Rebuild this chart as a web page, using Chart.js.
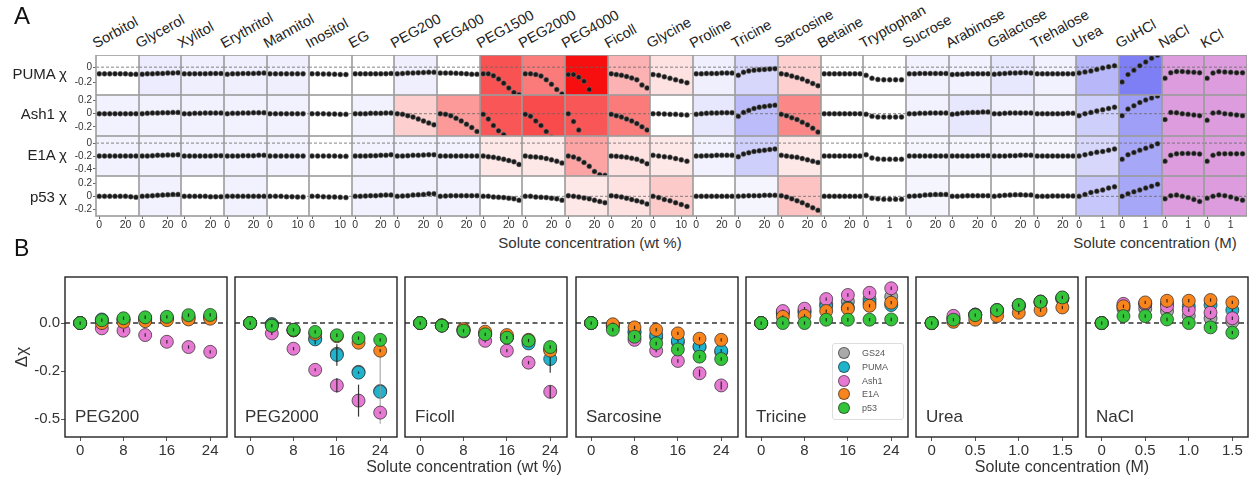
<!DOCTYPE html>
<html>
<head>
<meta charset="utf-8">
<script src="https://cdn.jsdelivr.net/npm/chart.js@4.4.1/dist/chart.umd.min.js"></script>
<style>
  body { margin: 0; background: #fff; font-family: "Liberation Sans", Arial, sans-serif; color: #333; }
  #fig { position: relative; width: 1260px; height: 484px; overflow: hidden; }
  #fig canvas { position: absolute; }
  .t { position: absolute; white-space: nowrap; }
  .legend { position: absolute; left: 832px; top: 343px; width: 72px; height: 77px; background: #fff;
            border: 1px solid #ddd; border-radius: 3px; box-sizing: border-box; }
  .legend div { position: absolute; left: 5px; height: 13px; font-size: 9px; line-height: 13px; color: #555; }
  .legend span { position: absolute; left: 0; top: 0; width: 12px; height: 12px; border-radius: 50%;
                 border: 1px solid rgba(40,40,40,0.6); box-sizing: border-box; }
  .legend b { position: absolute; left: 24px; font-weight: normal; }
</style>
</head>
<body>
<div id="fig"></div>
<script>
// ---------- panel A data ----------
const solutes = ["Sorbitol", "Glycerol", "Xylitol", "Erythritol", "Mannitol", "Inositol", "EG",
  "PEG200", "PEG400", "PEG1500", "PEG2000", "PEG4000", "Ficoll", "Glycine", "Proline", "Tricine",
  "Sarcosine", "Betaine", "Tryptophan", "Sucrose", "Arabinose", "Galactose", "Trehalose",
  "Urea", "GuHCl", "NaCl", "KCl"];
// w = wt % up to ~28, h = wt % up to ~12, m = molar
const soluteUnit = ["w", "w", "w", "w", "h", "h", "w", "w", "w", "w", "w", "w", "w", "h", "w", "w",
  "w", "w", "m", "w", "w", "w", "w", "m", "m", "m", "m"];
const saltSolutes = ["NaCl", "KCl"];
const concWt = [0, 4, 8, 12, 16, 20, 24, 28];
const concWtLow = [0, 2, 4, 6, 8, 10, 12];
const concMolar = [0, 0.25, 0.5, 0.75, 1, 1.25, 1.5];
const proteinsA = ["PUMA", "Ash1", "E1A", "p53"];
const yTicksA = [[0, -0.2], [0.2, 0, -0.2], [0, -0.2, -0.4], [0.2, 0, -0.2]];

const chiPUMA = [
  [-0.09, -0.09, -0.09, -0.09, -0.09, -0.09, -0.095, -0.095],
  [-0.095, -0.09, -0.09, -0.085, -0.085, -0.08, -0.08, -0.075],
  [-0.09, -0.09, -0.088, -0.088, -0.087, -0.086, -0.085, -0.085],
  [-0.095, -0.09, -0.088, -0.086, -0.085, -0.084, -0.082, -0.08],
  [-0.09, -0.09, -0.09, -0.09, -0.09, -0.09, -0.09],
  [-0.09, -0.09, -0.092, -0.093, -0.095, -0.098, -0.1],
  [-0.09, -0.09, -0.09, -0.09, -0.09, -0.09, -0.088, -0.085],
  [-0.09, -0.085, -0.08, -0.078, -0.075, -0.073, -0.07, -0.07],
  [-0.08, -0.08, -0.08, -0.082, -0.085, -0.09, -0.095, -0.095],
  [-0.09, -0.09, -0.115, -0.16, -0.215, -0.28, -0.34, -0.37],
  [-0.09, -0.09, -0.1, -0.12, -0.17, -0.23, -0.3, -0.36],
  [-0.1, -0.1, -0.135, -0.19, -0.3, -0.45, -0.6, -0.75],
  [-0.09, -0.1, -0.11, -0.125, -0.145, -0.17, -0.24, -0.28],
  [-0.1, -0.11, -0.13, -0.15, -0.17, -0.19, -0.21],
  [-0.09, -0.09, -0.085, -0.085, -0.085, -0.08, -0.08, -0.08],
  [-0.11, -0.07, -0.05, -0.04, -0.035, -0.03, -0.025, -0.02],
  [-0.09, -0.1, -0.12, -0.14, -0.16, -0.19, -0.22, -0.25],
  [-0.09, -0.09, -0.09, -0.09, -0.09, -0.09, -0.09, -0.09],
  [-0.11, -0.15, -0.165, -0.17, -0.17, -0.17, -0.17],
  [-0.09, -0.09, -0.085, -0.085, -0.085, -0.085, -0.085, -0.085],
  [-0.1, -0.095, -0.095, -0.09, -0.09, -0.09, -0.09, -0.09],
  [-0.095, -0.09, -0.085, -0.08, -0.08, -0.075, -0.075, -0.08],
  [-0.09, -0.09, -0.09, -0.09, -0.09, -0.09, -0.09, -0.09],
  [-0.08, -0.065, -0.05, -0.03, -0.01, 0.005, 0.02],
  [-0.2, -0.1, -0.04, 0.02, 0.07, 0.12, 0.16],
  [-0.15, -0.075, -0.06, -0.06, -0.065, -0.07, -0.075],
  [-0.15, -0.08, -0.06, -0.065, -0.07, -0.075, -0.075]
];
const chiAsh1 = [
  [0, 0, 0, 0, 0, 0, 0, 0],
  [0, 0.005, 0.01, 0.01, 0.015, 0.015, 0.02, 0.02],
  [0, 0, 0.005, 0.005, 0.01, 0.01, 0.01, 0.01],
  [0, 0.005, 0.005, 0.01, 0.01, 0.015, 0.015, 0.015],
  [0, 0, 0, 0, 0, 0, 0],
  [0, 0, 0, -0.005, -0.005, -0.01, -0.01],
  [0, 0, 0, 0.005, 0.005, 0.005, 0.01, 0.01],
  [0, -0.01, -0.03, -0.05, -0.08, -0.11, -0.14, -0.17],
  [0, -0.01, -0.03, -0.07, -0.11, -0.16, -0.21, -0.27],
  [-0.01, -0.08, -0.18, -0.26, -0.32, -0.4, -0.48, -0.55],
  [-0.01, -0.04, -0.11, -0.18, -0.27, -0.36, -0.45, -0.55],
  [0, -0.12, -0.25, -0.38, -0.5, -0.6, -0.7, -0.8],
  [-0.01, -0.03, -0.05, -0.08, -0.11, -0.15, -0.2, -0.25],
  [0, 0, -0.005, -0.01, -0.01, -0.015, -0.02],
  [-0.01, 0, 0.005, 0.01, 0.01, 0.015, 0.015, 0.015],
  [-0.04, 0.02, 0.05, 0.08, 0.1, 0.11, 0.12, 0.13],
  [-0.01, -0.03, -0.06, -0.09, -0.13, -0.17, -0.22, -0.28],
  [0, 0, 0, 0, 0, 0, 0, 0],
  [-0.01, -0.04, -0.05, -0.05, -0.05, -0.05, -0.05],
  [0, 0, 0.005, 0.005, 0.01, 0.01, 0.01, 0.01],
  [-0.01, 0, 0.01, 0.015, 0.02, 0.02, 0.025, 0.025],
  [0, 0, 0.005, 0.01, 0.01, 0.01, 0.01, 0.01],
  [0, 0, 0, 0, 0, 0, 0.005, 0.005],
  [-0.03, 0, 0.02, 0.04, 0.06, 0.08, 0.1],
  [-0.03, 0.07, 0.12, 0.17, 0.21, 0.24, 0.27],
  [-0.09, 0.02, 0.015, 0, -0.01, -0.02, -0.03],
  [-0.1, 0.01, 0.02, 0, -0.01, -0.02, -0.03]
];
const chiE1A = [
  [-0.2, -0.2, -0.2, -0.2, -0.2, -0.2, -0.2, -0.2],
  [-0.2, -0.2, -0.195, -0.19, -0.19, -0.185, -0.185, -0.18],
  [-0.2, -0.2, -0.2, -0.2, -0.2, -0.2, -0.195, -0.195],
  [-0.2, -0.2, -0.2, -0.195, -0.195, -0.195, -0.19, -0.19],
  [-0.2, -0.2, -0.2, -0.2, -0.2, -0.2, -0.2],
  [-0.2, -0.2, -0.2, -0.2, -0.2, -0.205, -0.205],
  [-0.2, -0.2, -0.2, -0.195, -0.195, -0.19, -0.19, -0.18],
  [-0.2, -0.2, -0.195, -0.19, -0.19, -0.185, -0.18, -0.18],
  [-0.2, -0.2, -0.2, -0.2, -0.2, -0.2, -0.2, -0.2],
  [-0.2, -0.21, -0.22, -0.235, -0.25, -0.27, -0.29, -0.33],
  [-0.2, -0.21, -0.215, -0.225, -0.24, -0.26, -0.28, -0.31],
  [-0.2, -0.215, -0.245, -0.3, -0.36, -0.44, -0.49, -0.5],
  [-0.2, -0.205, -0.21, -0.22, -0.235, -0.25, -0.28, -0.32],
  [-0.19, -0.2, -0.21, -0.22, -0.24, -0.26, -0.28],
  [-0.2, -0.2, -0.195, -0.195, -0.19, -0.19, -0.19, -0.19],
  [-0.21, -0.17, -0.15, -0.13, -0.12, -0.11, -0.1, -0.09],
  [-0.19, -0.2, -0.21, -0.22, -0.24, -0.26, -0.28, -0.3],
  [-0.2, -0.2, -0.2, -0.2, -0.2, -0.2, -0.2, -0.2],
  [-0.18, -0.23, -0.245, -0.25, -0.25, -0.25, -0.25],
  [-0.2, -0.2, -0.2, -0.2, -0.2, -0.2, -0.2, -0.2],
  [-0.2, -0.2, -0.2, -0.2, -0.2, -0.195, -0.195, -0.195],
  [-0.2, -0.2, -0.2, -0.195, -0.195, -0.19, -0.19, -0.19],
  [-0.2, -0.2, -0.2, -0.2, -0.2, -0.2, -0.2, -0.2],
  [-0.2, -0.18, -0.16, -0.14, -0.13, -0.11, -0.09],
  [-0.25, -0.18, -0.145, -0.11, -0.08, -0.05, -0.01],
  [-0.28, -0.19, -0.165, -0.16, -0.16, -0.16, -0.17],
  [-0.28, -0.19, -0.165, -0.165, -0.165, -0.165, -0.165]
];
const chiP53 = [
  [0, 0, 0, 0, 0, 0, -0.005, -0.015],
  [0, 0.005, 0.01, 0.015, 0.02, 0.025, 0.03, 0.03],
  [0, 0, 0, 0, 0, -0.005, -0.005, -0.005],
  [0, 0, 0, 0, 0, 0, 0, 0],
  [0, 0, 0, -0.005, -0.005, -0.01, -0.01],
  [0, 0, -0.005, -0.01, -0.01, -0.015, -0.02],
  [0, 0, 0.005, 0.01, 0.01, 0.015, 0.02, 0.02],
  [0, 0.005, 0.01, 0.02, 0.025, 0.03, 0.04, 0.04],
  [0, 0.005, 0.01, 0.01, 0.01, 0.01, 0.01, 0.01],
  [0, 0, -0.01, -0.015, -0.02, -0.03, -0.04, -0.06],
  [0, 0, -0.01, -0.015, -0.02, -0.03, -0.04, -0.06],
  [0.01, 0, -0.01, -0.025, -0.04, -0.06, -0.08, -0.1],
  [0.01, 0, -0.01, -0.03, -0.05, -0.07, -0.09, -0.12],
  [0, -0.02, -0.05, -0.07, -0.1, -0.13, -0.16],
  [0, 0, 0, 0, 0, 0, 0, 0],
  [0, 0.005, 0.01, 0.01, 0.01, 0.015, 0.015, 0.015],
  [0.01, -0.01, -0.04, -0.07, -0.1, -0.14, -0.18, -0.22],
  [0, 0, 0, 0, 0, 0, 0, 0],
  [0.01, -0.03, -0.04, -0.045, -0.045, -0.045, -0.045],
  [0, 0.005, 0.01, 0.02, 0.025, 0.03, 0.03, 0.03],
  [0, 0, 0.005, 0.01, 0.01, 0.01, 0.01, 0.01],
  [0, 0.01, 0.015, 0.02, 0.025, 0.025, 0.02, 0.02],
  [0, 0, 0, 0.005, 0.005, 0.005, 0.005, 0.005],
  [0, 0.03, 0.06, 0.08, 0.1, 0.13, 0.15],
  [0, 0.04, 0.07, 0.1, 0.13, 0.16, 0.19],
  [-0.04, 0.01, 0.02, 0, -0.02, -0.05, -0.08],
  [-0.03, 0, 0.02, 0.01, -0.01, -0.04, -0.06]
];
// cell shading score: negative = compaction (red), positive = expansion (blue)
const shadePUMA = [0, .12, .1, .1, .1, 0, 0, .1, 0, -.72, -.55, -1, -.32, -.12, .1, .25, -.2, 0, 0, .08, .08, .15, .08, .45, .8, 0, 0];
const shadeAsh1 = [.08, .08, .08, .08, .08, 0, .08, -.2, -.42, -.7, -.75, -.7, -.55, 0, .15, .42, -.5, 0, 0, .08, .15, .08, .08, .3, .6, 0, 0];
const shadeE1A = [.08, .08, .08, .08, .08, 0, .08, .08, .08, -.1, -.1, -.38, -.12, -.1, .08, .3, -.1, 0, 0, .06, .06, .06, .06, .25, .55, 0, 0];
const shadeP53 = [0, .08, 0, .08, 0, 0, .08, .08, .08, 0, 0, -.1, -.12, -.22, 0, .06, -.25, 0, 0, .06, 0, 0, 0, .35, .55, 0, 0];

// ---------- panel B data ----------
const panelB = ["PEG200", "PEG2000", "Ficoll", "Sarcosine", "Tricine", "Urea", "NaCl"];
const panelBMolar = ["Urea", "NaCl"];
const proteinsB = ["GS24", "PUMA", "Ash1", "E1A", "p53"];
const concBWt = [0, 4, 8, 12, 16, 20, 24];
const concBMolar = [0, 0.25, 0.5, 0.75, 1, 1.25, 1.5];
const xTicksBWt = [0, 8, 16, 24];
const xTicksBMolar = [0, 0.5, 1, 1.5];
const yTicksB = [0, -0.2, -0.5];

const dPEG200 = [
  [0, 0.01, 0.015, 0.015, 0.02, 0.02, 0.025],
  [0, 0.015, 0.015, 0.02, 0.02, 0.025, 0.025],
  [0, -0.022, -0.032, -0.05, -0.078, -0.1, -0.12],
  [0, 0, 0.005, 0.008, 0.012, 0.015, 0.018],
  [0, 0.012, 0.02, 0.024, 0.026, 0.033, 0.034]
];
const dPEG2000 = [
  [0, -0.005, -0.03, -0.065, -0.128, -0.205, -0.325],
  [0, -0.005, -0.03, -0.068, -0.133, -0.21, -0.33],
  [0, -0.043, -0.107, -0.195, -0.29, -0.385, -0.46],
  [0, -0.01, -0.03, -0.045, -0.055, -0.082, -0.115],
  [0, -0.011, -0.028, -0.037, -0.051, -0.063, -0.07]
];
const dFicoll = [
  [0, -0.01, -0.028, -0.045, -0.06, -0.075, -0.11],
  [0, -0.01, -0.03, -0.045, -0.06, -0.085, -0.15],
  [0, -0.01, -0.035, -0.074, -0.115, -0.165, -0.33],
  [0, -0.01, -0.025, -0.036, -0.05, -0.07, -0.115],
  [0, -0.011, -0.032, -0.047, -0.061, -0.073, -0.1]
];
const dSarcosine = [
  [0, -0.01, -0.04, -0.06, -0.08, -0.1, -0.12],
  [0, -0.008, -0.035, -0.05, -0.073, -0.098, -0.115],
  [0, -0.015, -0.07, -0.115, -0.158, -0.214, -0.29],
  [0, -0.005, -0.018, -0.028, -0.043, -0.065, -0.07],
  [0, -0.028, -0.057, -0.085, -0.11, -0.14, -0.15]
];
const dTricine = [
  [0, 0.045, 0.05, 0.08, 0.09, 0.1, 0.11],
  [0, 0.04, 0.045, 0.07, 0.065, 0.085, 0.075],
  [0, 0.05, 0.06, 0.1, 0.117, 0.126, 0.145],
  [0, 0.026, 0.03, 0.05, 0.06, 0.072, 0.085],
  [0, 0, 0, 0.014, 0.014, 0.014, 0.015]
];
const dUrea = [
  [0, 0.02, 0.035, 0.05, 0.07, 0.085, 0.1],
  [0, 0.018, 0.035, 0.052, 0.072, 0.088, 0.104],
  [0, 0.03, 0.035, 0.055, 0.075, 0.09, 0.105],
  [0, 0.005, 0.014, 0.029, 0.043, 0.054, 0.065],
  [0, 0.014, 0.033, 0.054, 0.075, 0.089, 0.107]
];
const dNaCl = [
  [0, 0.06, 0.06, 0.05, 0.03, 0.02, 0.005],
  [0, 0.07, 0.08, 0.08, 0.07, 0.075, 0.054],
  [0, 0.08, 0.08, 0.07, 0.054, 0.044, 0.02],
  [0, 0.07, 0.086, 0.093, 0.093, 0.096, 0.086],
  [0, 0.029, 0.029, 0.015, 0, -0.018, -0.04]
];
// [solute, protein, concentration, half-width]
const errorBarsB = [
  ["PEG2000", "PUMA", 12, 0.02], ["PEG2000", "PUMA", 16, 0.045], ["PEG2000", "Ash1", 16, 0.045],
  ["PEG2000", "Ash1", 20, 0.1], ["PEG2000", "PUMA", 24, 0.2], ["Ficoll", "PUMA", 24, 0.06],
  ["Ficoll", "Ash1", 24, 0.04], ["Sarcosine", "Ash1", 20, 0.02], ["Sarcosine", "Ash1", 24, 0.025]
];

// ---------- setup ----------
Chart.defaults.font.family = '"Liberation Sans", Arial, sans-serif';
Chart.defaults.color = "#333";
const fig = document.getElementById("fig");

function addCanvas(x, y, w, h) {
  const cv = document.createElement("canvas");
  cv.width = w; cv.height = h;
  cv.style.left = x + "px"; cv.style.top = y + "px";
  cv.style.width = w + "px"; cv.style.height = h + "px";
  fig.appendChild(cv);
  return cv;
}
function addText(str, css) {
  const d = document.createElement("div");
  d.className = "t";
  d.textContent = str;
  Object.assign(d.style, css);
  fig.appendChild(d);
  return d;
}
// force an axis to a fixed thickness and drop the label overhang padding
function fixAxis(s, size) {
  if (s.isHorizontal()) s.height = size; else s.width = size;
  s.paddingTop = 0; s.paddingBottom = 0; s.paddingLeft = 0; s.paddingRight = 0;
}

function shadeColor(score, salt) {
  if (salt) return "rgb(221,156,221)";
  if (score < 0) {
    const t = -score;
    return `rgb(${Math.round(255 - 8 * t)},${Math.round(255 - 240 * t)},${Math.round(255 - 240 * t)})`;
  }
  const t = score;
  return `rgb(${Math.round(255 - 160 * t)},${Math.round(255 - 160 * t)},${Math.round(255 - 12 * t)})`;
}

const cellPlugin = {
  id: "cell",
  beforeDraw(chart, args, o) {
    const a = chart.chartArea, ctx = chart.ctx;
    ctx.save();
    ctx.fillStyle = o.bg;
    ctx.fillRect(a.left, a.top, a.right - a.left, a.bottom - a.top);
    const y0 = chart.scales.y.getPixelForValue(0);
    ctx.strokeStyle = "#666";
    ctx.lineWidth = 0.8;
    ctx.setLineDash([3, 2]);
    ctx.beginPath();
    ctx.moveTo(a.left, y0); ctx.lineTo(a.right, y0);
    ctx.stroke();
    ctx.restore();
  },
  afterDraw(chart) {
    const a = chart.chartArea, ctx = chart.ctx;
    ctx.save();
    ctx.strokeStyle = "#9c9c9c";
    ctx.lineWidth = 1.6;
    ctx.strokeRect(a.left, a.top, a.right - a.left, a.bottom - a.top);
    ctx.restore();
  }
};

// ---------- panel A ----------
const chiRows = [chiPUMA, chiAsh1, chiE1A, chiP53];
const shadeRows = [shadePUMA, shadeAsh1, shadeE1A, shadeP53];
const yRangeA = [[-0.375, 0.164], [-0.34, 0.285], [-0.51, 0.11], [-0.31, 0.32]];
const xRangeA = { w: [-2.5, 30.3], h: [-1.07, 14.15], m: [-0.13, 1.69] };
const xTickMaxA = { w: 20, h: 10, m: 1 };
const unitConc = { w: concWt, h: concWtLow, m: concMolar };
const colX = c => Math.round(96 + c * 42.63);
const rowY = r => Math.round(55 + r * 40.25);

for (let r = 0; r < 4; r++) {
  for (let c = 0; c < solutes.length; c++) {
    const unit = soluteUnit[c];
    const xs = unitConc[unit];
    const ys = chiRows[r][c];
    const isLeft = c === 0, isBottom = r === 3;
    const axW = 42, axH = 16;
    const L = colX(c), R = colX(c + 1), T = rowY(r), B = rowY(r + 1);
    const cv = addCanvas(L - (isLeft ? axW : 0), T, R - L + (isLeft ? axW : 0), B - T + (isBottom ? axH : 0));
    new Chart(cv, {
      type: "scatter",
      data: {
        datasets: [{
          data: ys.map((v, i) => ({ x: xs[i], y: v })),
          pointRadius: 2.5,
          pointBackgroundColor: "#1a1a1a",
          pointBorderColor: "#777",
          pointBorderWidth: 0.5
        }]
      },
      options: {
        responsive: false, animation: false, events: [],
        layout: { padding: 0, autoPadding: false },
        plugins: {
          legend: { display: false }, tooltip: { enabled: false },
          cell: { bg: shadeColor(shadeRows[r][c], saltSolutes.includes(solutes[c])) }
        },
        scales: {
          x: {
            type: "linear", min: xRangeA[unit][0], max: xRangeA[unit][1], display: isBottom,
            afterBuildTicks: s => { s.ticks = [{ value: 0 }, { value: xTickMaxA[unit] }]; },
            afterFit: s => fixAxis(s, isBottom ? axH : 0),
            ticks: { font: { size: 10.5 }, color: "#333", padding: 0, maxRotation: 0, autoSkip: false, callback: v => String(v) },
            grid: { drawOnChartArea: false, tickLength: 3, color: "#666" },
            border: { display: false }
          },
          y: {
            type: "linear", min: yRangeA[r][0], max: yRangeA[r][1], display: isLeft,
            afterBuildTicks: s => { s.ticks = yTicksA[r].map(v => ({ value: v })); },
            afterFit: s => fixAxis(s, isLeft ? axW : 0),
            ticks: { font: { size: 10 }, color: "#333", padding: 1, autoSkip: false, callback: v => String(v) },
            grid: { drawOnChartArea: false, tickLength: 3, color: "#666" },
            border: { display: false }
          }
        }
      },
      plugins: [cellPlugin]
    });
  }
}

solutes.forEach((s, c) => {
  addText(s, {
    left: (colX(c) + 2) + "px", top: "35px", fontSize: "14.5px", lineHeight: "17px", color: "#222",
    transformOrigin: "0 100%", transform: "rotate(-29deg)"
  });
});
const rowLabelY = [74, 114, 155, 197];
proteinsA.forEach((p, r) => {
  addText(p + " \u03c7", {
    left: "0px", width: "67px", textAlign: "right", top: (rowLabelY[r] - 9) + "px",
    fontSize: "15px", lineHeight: "18px", color: "#222"
  });
});
addText("A", { left: "14px", top: "2px", fontSize: "24px", lineHeight: "28px", color: "#111" });
addText("Solute concentration (wt %)", { left: "440px", width: "300px", textAlign: "center", top: "234px", fontSize: "15px", lineHeight: "18px" });
addText("Solute concentration (M)", { left: "1005px", width: "300px", textAlign: "center", top: "234px", fontSize: "15px", lineHeight: "18px" });

// ---------- panel B ----------
const toU = v => (v >= -0.2 ? v / 0.2 : -1 + (v + 0.2) / 0.3);
const colorsB = ["#a9a9a9", "#1fb3cc", "#e67ad2", "#f7841c", "#33c43a"];
const dataB = [dPEG200, dPEG2000, dFicoll, dSarcosine, dTricine, dUrea, dNaCl];
const plotLeftB = [65, 235, 405, 576, 746, 916, 1086];
const plotW = 162, plotTop = 277, plotH = 160;

const framePlugin = {
  id: "frame",
  beforeDatasetsDraw(chart) {
    const a = chart.chartArea, ctx = chart.ctx;
    const y0 = chart.scales.y.getPixelForValue(0);
    ctx.save();
    ctx.strokeStyle = "#333";
    ctx.lineWidth = 1.4;
    ctx.setLineDash([5, 3.5]);
    ctx.beginPath();
    ctx.moveTo(a.left, y0); ctx.lineTo(a.right, y0);
    ctx.stroke();
    ctx.restore();
  },
  afterDatasetDraw(chart, args) {
    const ds = chart.data.datasets[args.index];
    const ys = chart.scales.y, ctx = chart.ctx;
    ctx.save();
    args.meta.data.forEach((pt, i) => {
      const v = ds.raw[i], e = ds.err[i];
      ctx.strokeStyle = e > 0.15 ? "rgba(150,150,150,0.8)" : "rgba(20,20,20,0.85)";
      ctx.lineWidth = 1.2;
      ctx.beginPath();
      ctx.moveTo(pt.x, ys.getPixelForValue(toU(v + e)));
      ctx.lineTo(pt.x, ys.getPixelForValue(toU(v - e)));
      ctx.stroke();
    });
    ctx.restore();
  },
  afterDraw(chart) {
    const a = chart.chartArea, ctx = chart.ctx;
    ctx.save();
    ctx.strokeStyle = "#222";
    ctx.lineWidth = 1.4;
    ctx.strokeRect(a.left, a.top, a.right - a.left, a.bottom - a.top);
    ctx.restore();
  }
};

panelB.forEach((name, i) => {
  const molar = panelBMolar.includes(name);
  const xs = molar ? concBMolar : concBWt;
  const first = i === 0;
  const axW = 65, axH = 22, pad = 3;
  const cv = addCanvas(plotLeftB[i] - (first ? axW : pad), plotTop - pad,
    plotW + pad + (first ? axW : pad), plotH + pad + axH);
  new Chart(cv, {
    type: "scatter",
    data: {
      datasets: proteinsB.map((p, k) => ({
        label: p,
        raw: dataB[i][k],
        err: xs.map(x => {
          const hit = errorBarsB.find(e => e[0] === name && e[1] === p && e[2] === x);
          return hit ? hit[3] : 0.007;
        }),
        data: dataB[i][k].map((v, j) => ({ x: xs[j], y: toU(v) })),
        order: proteinsB.length - 1 - k,
        pointRadius: 6.5,
        pointBackgroundColor: colorsB[k],
        pointBorderColor: "rgba(40,40,40,0.7)",
        pointBorderWidth: 1
      }))
    },
    options: {
      responsive: false, animation: false, events: [],
      layout: { padding: { left: first ? 0 : pad, right: pad, top: pad, bottom: 0 }, autoPadding: false },
      plugins: { legend: { display: false }, tooltip: { enabled: false } },
      scales: {
        x: {
          type: "linear", min: molar ? -0.18 : -2.8, max: molar ? 1.68 : 27.1,
          afterBuildTicks: s => { s.ticks = (molar ? xTicksBMolar : xTicksBWt).map(v => ({ value: v })); },
          afterFit: s => fixAxis(s, axH),
          ticks: { font: { size: 15 }, color: "#333", padding: 1, maxRotation: 0, autoSkip: false,
            callback: v => (molar && v !== 0 ? v.toFixed(1) : String(v)) },
          grid: { drawOnChartArea: false, tickLength: 4, color: "#555" },
          border: { display: false }
        },
        y: {
          type: "linear", min: -2.375, max: 0.96, display: first,
          afterBuildTicks: s => { s.ticks = yTicksB.map(v => ({ value: toU(v) })); },
          afterFit: s => fixAxis(s, first ? axW : 0),
          ticks: { font: { size: 15 }, color: "#333", padding: 1, autoSkip: false,
            callback: (v, idx) => yTicksB[idx].toFixed(1) },
          grid: { drawOnChartArea: false, tickLength: 4, color: "#555" },
          border: { display: false },
          title: { display: true, text: "\u0394\u03c7", font: { size: 17 }, color: "#333", padding: { top: 12, bottom: 0 } }
        }
      }
    },
    plugins: [framePlugin]
  });
  addText(name, { left: (plotLeftB[i] + 10) + "px", top: "407px", fontSize: "17px", lineHeight: "20px", color: "#333" });
});

addText("B", { left: "14px", top: "235px", fontSize: "23px", lineHeight: "26px", color: "#111" });
addText("Solute concentration (wt %)", { left: "314px", width: "300px", textAlign: "center", top: "457px", fontSize: "16px", lineHeight: "20px" });
addText("Solute concentration (M)", { left: "912px", width: "300px", textAlign: "center", top: "457px", fontSize: "16px", lineHeight: "20px" });

// legend inside the Tricine panel
const lg = document.createElement("div");
lg.className = "legend";
proteinsB.forEach((p, k) => {
  const row = document.createElement("div");
  row.style.top = (3 + k * 13.8) + "px";
  row.innerHTML = `<span style="background:${colorsB[k]}"></span><b>${p}</b>`;
  lg.appendChild(row);
});
fig.appendChild(lg);
</script>
</body>
</html>
